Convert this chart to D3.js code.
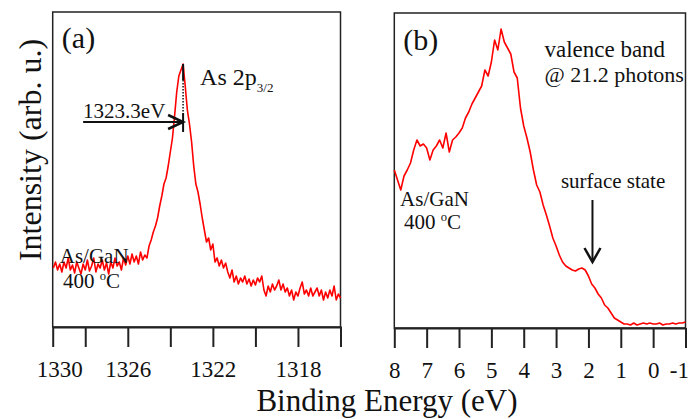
<!DOCTYPE html>
<html>
<head>
<meta charset="utf-8">
<script src="https://cdn.jsdelivr.net/npm/d3@7"></script>
<style>
  body { margin: 0; background: #fff; }
  svg { display: block; }
  text { font-family: "Liberation Serif", "Times New Roman", serif; fill: #111; }
</style>
</head>
<body>
<svg id="chart"></svg>
<script>
const width = 691;
const height = 419;

// (a) As 2p3/2 core level, binding energy from 1329.5 eV down in 0.1 eV steps
const startA = 1329.5;
const stepA = 0.1;
let intensityA = [
  59, 65, 57, 63, 55, 65, 59, 69, 57, 62,
  54, 65, 59, 53, 63, 57, 67, 56, 61, 69,
  55, 63, 59, 67, 57, 64, 53, 65, 59, 69,
  61, 65, 57, 69, 62, 71, 63, 73, 65, 71,
  63, 75, 67, 72, 69, 81, 87, 95, 101, 109,
  121, 131, 143, 149, 161, 175, 189, 211, 235, 251,
  257, 263, 241, 217, 203, 185, 161, 143, 135, 123,
  109, 97, 85, 89, 77, 83, 65, 69, 61, 67,
  59, 64, 55, 49, 57, 45, 51, 43, 49, 45,
  51, 43, 48, 41, 47, 42, 49, 45, 51, 37,
  31, 41, 35, 43, 37, 41, 47, 37, 43, 35,
  39, 31, 37, 27, 35, 31, 39, 45, 33, 37,
  31, 39, 31, 35, 39, 31, 37, 27, 35, 29,
  37, 31, 41, 27, 33, 29
];

// (b) valence band, binding energy from 8 eV down in 0.1 eV steps
const startB = 8.0;
const stepB = 0.1;
let intensityB = [
  158, 148, 138, 152, 158, 165, 178, 188, 182, 184,
  180, 168, 178, 182, 188, 180, 195, 176, 188, 191,
  195, 200, 210, 216, 224, 230, 236, 242, 258, 252,
  266, 288, 278, 299, 286, 280, 274, 256, 250, 220,
  202, 190, 176, 158, 143, 136, 123, 113, 102, 90,
  82, 73, 66, 62, 60, 58, 57, 59, 60, 58,
  52, 44, 40, 34, 30, 23, 20, 15, 10, 8,
  6, 4, 4, 3, 5, 3, 4, 5, 4, 5,
  4, 4, 5, 3, 4, 4, 5, 4, 5, 5,
  6
];

// axis ticks and labels
let ticksA = [1328, 1326, 1324, 1322, 1320, 1318];
let labelsA = [1330, 1326, 1322, 1318];
let ticksB = [8, 7, 6, 5, 4, 3, 2, 1, 0, -1];

let pointsA = intensityA.map((v, i) => ({ e: +(startA - i * stepA).toFixed(2), v: v }));
let pointsB = intensityB.map((v, i) => ({ e: +(startB - i * stepB).toFixed(2), v: v }));

let svg = d3.select('#chart').attr('width', width).attr('height', height);

let xA = d3.scaleLinear().domain([1329.53, 1316]).range([52.7, 340.5]);
let yA = d3.scaleLinear().domain([0, 315]).range([327, 12]);
let xB = d3.scaleLinear().domain([8, -1]).range([394.3, 685.5]);
let yB = d3.scaleLinear().domain([0, 315]).range([328, 13]);

let drawFrame = (x, y) => {
    svg.append('rect')
        .attr('x', x.range()[0])
        .attr('y', y.range()[1])
        .attr('width', x.range()[1] - x.range()[0])
        .attr('height', y.range()[0] - y.range()[1])
        .attr('fill', 'none')
        .attr('stroke', '#222')
        .attr('stroke-width', 1.5);
};

let drawAxis = (axis, y) => {
    let g = svg.append('g')
        .attr('transform', 'translate(0,' + y.range()[0] + ')')
        .call(axis);
    g.select('.domain').attr('stroke', '#222').attr('stroke-width', 2);
    g.selectAll('.tick line').attr('stroke', '#222').attr('stroke-width', 2);
    g.selectAll('.tick text')
        .attr('y', 50)
        .attr('dy', 0)
        .attr('fill', '#111')
        .style('font-family', '"Liberation Serif", serif')
        .style('font-size', '23px');
    return g;
};

let drawCurve = (points, x, y) => {
    let line = d3.line()
        .x(d => x(d.e))
        .y(d => y(d.v));
    svg.append('path')
        .datum(points)
        .attr('fill', 'none')
        .attr('stroke', '#ff0000')
        .attr('stroke-width', 1.6)
        .attr('stroke-linejoin', 'round')
        .attr('d', line);
};

let label = (txt, x, y, size, anchor) => {
    return svg.append('text')
        .attr('x', x)
        .attr('y', y)
        .attr('text-anchor', anchor || 'start')
        .style('font-size', size + 'px')
        .text(txt);
};

let degLabel = (x, y, size) => {
    let t = svg.append('text')
        .attr('x', x)
        .attr('y', y)
        .style('font-size', size + 'px');
    t.append('tspan').text('400 ');
    t.append('tspan').attr('dy', -8).style('font-size', (size * 0.6) + 'px').text('o');
    t.append('tspan').attr('dy', 8).text('C');
};

// panel (a)
drawFrame(xA, yA);
drawCurve(pointsA, xA, yA);
drawAxis(d3.axisBottom(xA)
    .tickValues(ticksA)
    .tickSize(20)
    .tickSizeOuter(20)
    .tickFormat(d => labelsA.includes(d) ? d : ''), yA);
label(labelsA[0], xA.range()[0] - 16, yA.range()[0] + 50, 23);

// panel (b)
drawFrame(xB, yB);
drawCurve(pointsB, xB, yB);
let axB = drawAxis(d3.axisBottom(xB)
    .tickValues(ticksB)
    .tickSize(20)
    .tickSizeOuter(0)
    .tickFormat(d => String(d)), yB);
// last label sits flush with the frame edge
axB.selectAll('.tick text').filter(d => d === -1)
    .attr('text-anchor', 'end')
    .attr('x', 3);

// peak marker in (a)
let peak = d3.greatest(pointsA, d => d.v);
let px = xA(peak.e);
let arrowY = yA(205);
let marks = svg.append('g').attr('stroke', '#111').attr('fill', 'none');
marks.append('line').attr('x1', px).attr('x2', px).attr('y1', yA(peak.v)).attr('y2', yA(247)).attr('stroke-width', 2);
marks.append('line').attr('x1', px).attr('x2', px).attr('y1', yA(247)).attr('y2', yA(214))
    .attr('stroke-width', 1.5).attr('stroke-dasharray', '1.5,1.5');
marks.append('line').attr('x1', px).attr('x2', px).attr('y1', yA(214)).attr('y2', yA(195)).attr('stroke-width', 2);
marks.append('line').attr('x1', xA(1328.1)).attr('x2', px).attr('y1', arrowY).attr('y2', arrowY).attr('stroke-width', 2);
marks.append('path')
    .attr('d', 'M' + (px - 15) + ',' + (arrowY - 7) + 'L' + px + ',' + arrowY + 'L' + (px - 15) + ',' + (arrowY + 7))
    .attr('stroke-width', 2.5);

label('1323.3eV', xA(1328.1), arrowY - 4, 21);
let as2p = label('As 2p', xA(1322.6), yA(242), 24);
as2p.append('tspan').attr('dy', 7).style('font-size', '13px').text('3/2');
label('(a)', xA(1329.1), yA(279), 30);
label('As/GaN', xA(1329.2), yA(64), 21);
degLabel(xA(1329.05), yA(39), 21);

// panel (b) labels and surface state arrow
label('(b)', xB(7.72), yB(278), 30);
label('valence band', xB(3.36), yB(271), 23);
label('@ 21.2 photons', xB(3.36), yB(246), 22);
label('As/GaN', xB(7.82), yB(122), 21);
degLabel(xB(7.7), yB(99), 21);
label('surface state', xB(2.85), yB(140), 21);

let sx = xB(1.875);
let sTop = yB(128);
let sBot = yB(66);
marks.append('line').attr('x1', sx).attr('x2', sx).attr('y1', sTop).attr('y2', sBot).attr('stroke-width', 2);
marks.append('path')
    .attr('d', 'M' + (sx - 8) + ',' + (sBot - 14) + 'L' + sx + ',' + sBot + 'L' + (sx + 8) + ',' + (sBot - 14))
    .attr('stroke-width', 2.5);

// axis titles
label('Binding Energy (eV)', 387, 411, 31, 'middle');
svg.append('text')
    .attr('transform', 'translate(41,' + 150 + ') rotate(-90)')
    .attr('text-anchor', 'middle')
    .style('font-size', '32px')
    .text('Intensity (arb. u.)');
</script>
</body>
</html>
